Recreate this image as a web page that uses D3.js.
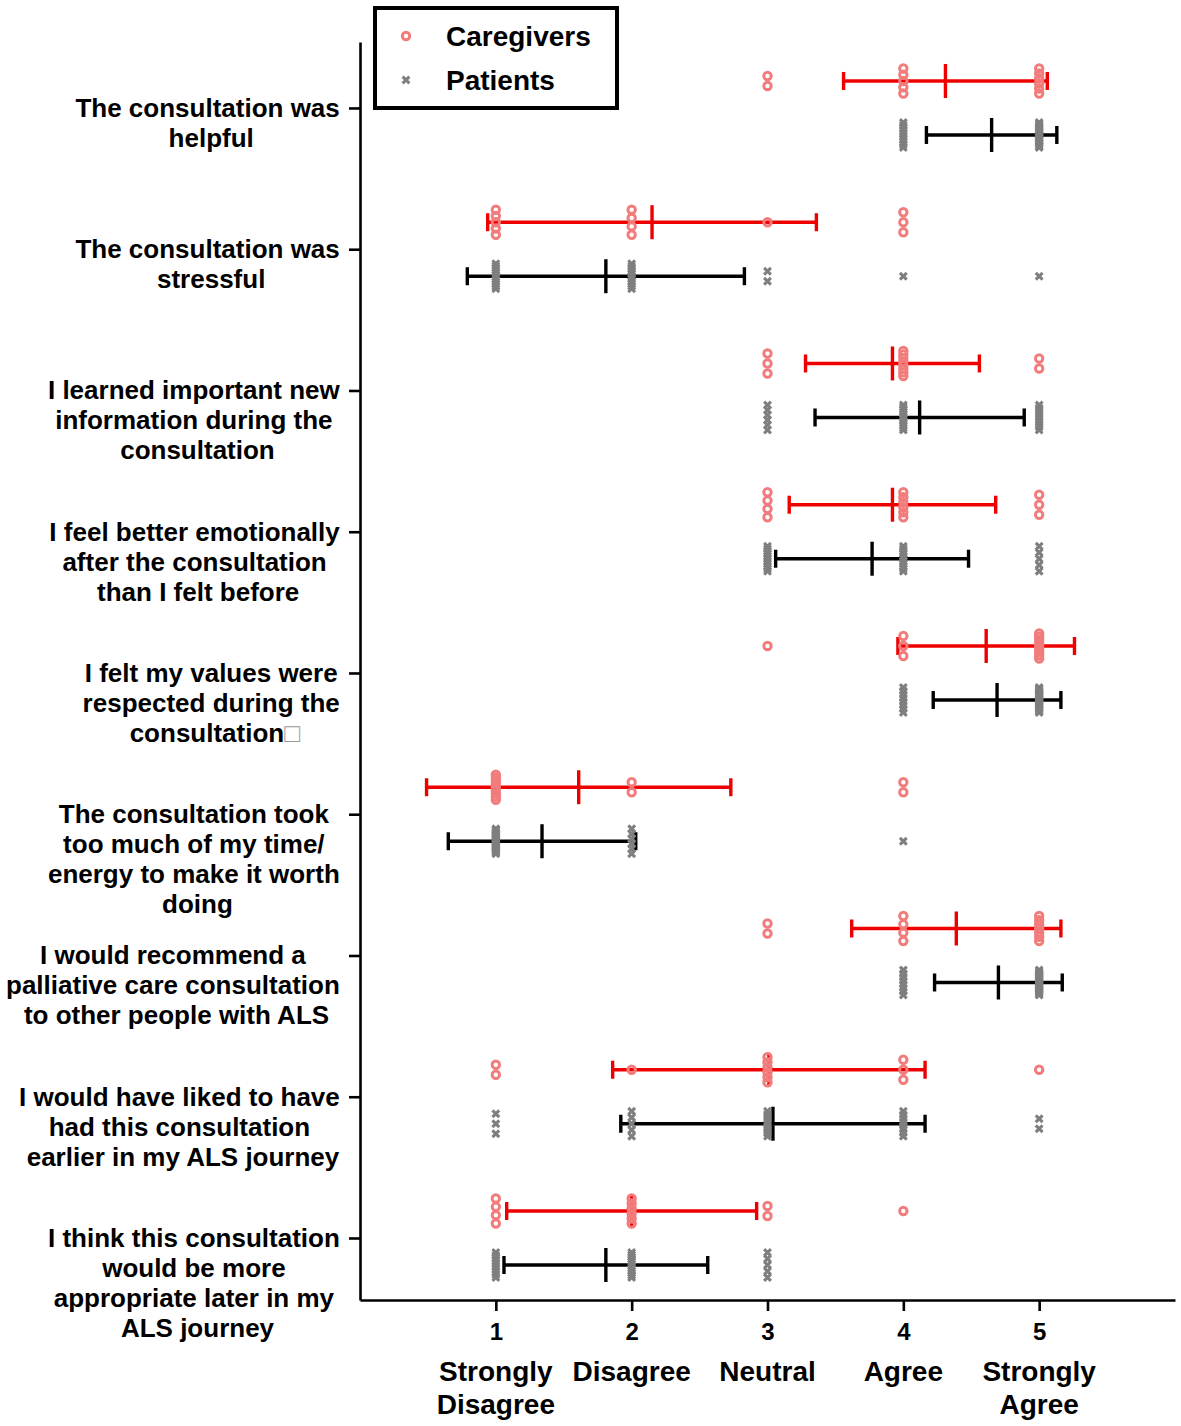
<!DOCTYPE html>
<html>
<head>
<meta charset="utf-8">
<script src="https://cdn.jsdelivr.net/npm/d3@7"></script>
<style>
body { margin: 0; background: #fff; }
text { font-family: 'Liberation Sans', Arial, sans-serif; font-weight: bold; fill: #000; }
</style>
</head>
<body>
<div id="chart"></div>
<script>
'use strict';

// survey items, one line per entry (trailing space kept where the label wraps)
var questions = [
    ['The consultation was ', 'helpful'],
    ['The consultation was ', 'stressful'],
    ['I learned important new ', 'information during the ', 'consultation'],
    ['I feel better emotionally ', 'after the consultation ', 'than I felt before'],
    ['I felt my values were ', 'respected during the ', 'consultation\u25A1'],
    ['The consultation took ', 'too much of my time/ ', 'energy to make it worth ', 'doing'],
    ['I would recommend a ', 'palliative care consultation ', 'to other people with ALS'],
    ['I would have liked to have ', 'had this consultation ', 'earlier in my ALS journey'],
    ['I think this consultation ', 'would be more ', 'appropriate later in my ', 'ALS journey']
];

var levels = [1, 2, 3, 4, 5];
var levelNames = [['Strongly', 'Disagree'], ['Disagree'], ['Neutral'], ['Agree'], ['Strongly', 'Agree']];

// number of answers per level 1..5
var caregiverCounts = [
    [0, 0, 2, 5, 6],
    [5, 4, 1, 3, 0],
    [0, 0, 3, 8, 2],
    [0, 0, 4, 6, 3],
    [0, 0, 1, 3, 9],
    [9, 2, 0, 2, 0],
    [0, 0, 2, 4, 7],
    [2, 1, 6, 3, 1],
    [4, 6, 2, 1, 0]
];
var patientCounts = [
    [0, 0, 0, 10, 17],
    [12, 11, 2, 1, 1],
    [0, 0, 6, 12, 9],
    [0, 0, 11, 11, 5],
    [0, 0, 0, 8, 19],
    [20, 6, 0, 1, 0],
    [0, 0, 0, 8, 19],
    [3, 5, 9, 8, 2],
    [10, 12, 5, 0, 0]
];

// mean and standard deviation bars
var caregiverMean = [4.31, 2.15, 3.92, 3.92, 4.61, 1.61, 4.39, 3.01, 2.00];
var caregiverSD   = [0.75, 1.21, 0.64, 0.76, 0.65, 1.12, 0.77, 1.15, 0.92];
var patientMean   = [4.65, 1.81, 4.12, 3.77, 4.69, 1.34, 4.70, 3.04, 1.81];
var patientSD     = [0.48, 1.02, 0.77, 0.71, 0.47, 0.69, 0.47, 1.12, 0.75];

var groups = ['Caregivers', 'Patients'];

function likertChart()
{
    var scope = this;
    var exports = {};

    scope.width = 1181;
    scope.height = 1426;
    scope.left = 360;
    scope.right = 1175;
    scope.top = 42;
    scope.bottom = 1300;
    scope.rowShift = 27;

    scope.colors = {
        Caregivers: {mark: '#f27c7c', bar: '#ee0000'},
        Patients:   {mark: '#7f7f7f', bar: '#000000'}
    };

    scope.appendSvg = function(div)
    {
        return d3.select(div).append('svg')
            .attr('width', scope.width)
            .attr('height', scope.height);
    }

    scope.createScales = function()
    {
        scope.xScale = d3.scaleLinear().domain([0, 6]).range([scope.left, scope.right]);
        scope.yScale = d3.scaleLinear().domain([-0.467, 8.439]).range([scope.top, scope.bottom]);
    }

    scope.createAxes = function(svg)
    {
        var xAxis = d3.axisBottom(scope.xScale)
            .tickValues(levels)
            .tickSize(11).tickSizeOuter(0)
            .tickPadding(12)
            .tickFormat(d3.format('d'));
        var yAxis = d3.axisLeft(scope.yScale)
            .tickValues(d3.range(questions.length))
            .tickSize(11).tickSizeOuter(0)
            .tickFormat('');

        var gx = svg.append('g')
            .attr('transform', 'translate(0,' + scope.bottom + ')')
            .call(xAxis);
        gx.selectAll('text').style('font-size', '24px').attr('fill', '#000');

        var gy = svg.append('g')
            .attr('transform', 'translate(' + scope.left + ',0)')
            .call(yAxis);

        [gx, gy].forEach(function(g) {
            g.selectAll('path, line').attr('stroke', '#000').attr('stroke-width', 2.6);
        });

        // level names under the numbers
        var names = svg.append('g').selectAll('text')
            .data(levelNames)
            .enter().append('text')
            .attr('text-anchor', 'middle')
            .style('font-size', '28px');
        names.each(function(lines, i) {
            d3.select(this).selectAll('tspan')
                .data(lines).enter().append('tspan')
                .attr('x', scope.xScale(levels[i]))
                .attr('y', function(d, j) { return 1381 + j * 33; })
                .text(function(d) { return d; });
        });
    }

    scope.createQuestionLabels = function(svg)
    {
        var rightEdge = 347;
        questions.forEach(function(lines, q) {
            var t = svg.append('text')
                .attr('text-anchor', 'middle')
                .style('font-size', '26px')
                .style('white-space', 'pre');
            var spans = t.selectAll('tspan').data(lines).enter().append('tspan')
                .attr('y', function(d, j) { return scope.yScale(q) + 9 + j * 30; })
                .text(function(d) { return d; });
            var maxW = 0;
            spans.each(function() { maxW = Math.max(maxW, this.getComputedTextLength()); });
            spans.attr('x', rightEdge - maxW / 2);
        });
        // the fifth item shows a missing-glyph box after its text
        svg.selectAll('tspan').filter(function(d) { return d === 'consultation\u25A1'; })
            .each(function() {
                var s = d3.select(this);
                s.text('consultation');
                s.append('tspan').attr('fill', '#9a9a9a').style('font-weight', 'normal').text('\u25A1');
            });
    }

    scope.markPath = function(group)
    {
        if (group === 'Caregivers') return null;
        return 'M-3.4,-3.4L3.4,3.4M-3.4,3.4L3.4,-3.4';
    }

    scope.pointsFor = function(counts, shift)
    {
        var pts = [];
        counts.forEach(function(row, q) {
            row.forEach(function(n, k) {
                var spacing = n > 1 ? Math.min(10, 25 / (n - 1)) : 0;
                for (var i = 0; i < n; i++) {
                    pts.push({value: levels[k], q: q, dy: shift + (i - (n - 1) / 2) * spacing});
                }
            });
        });
        return pts;
    }

    scope.appendErrorBars = function(svg, group, means, sds, shift)
    {
        var col = scope.colors[group].bar;
        var g = svg.append('g')
            .attr('stroke', col)
            .attr('stroke-width', 3.4)
            .attr('fill', 'none');
        var rows = means.map(function(m, q) { return {q: q, mean: m, sd: sds[q]}; });
        var bars = g.selectAll('g').data(rows).enter().append('g')
            .attr('transform', function(d) { return 'translate(0,' + (scope.yScale(d.q) + shift) + ')'; });
        bars.append('line')
            .attr('x1', function(d) { return scope.xScale(d.mean - d.sd); })
            .attr('x2', function(d) { return scope.xScale(d.mean + d.sd); });
        bars.append('line')
            .attr('x1', function(d) { return scope.xScale(d.mean - d.sd); })
            .attr('x2', function(d) { return scope.xScale(d.mean - d.sd); })
            .attr('y1', -9).attr('y2', 9);
        bars.append('line')
            .attr('x1', function(d) { return scope.xScale(d.mean + d.sd); })
            .attr('x2', function(d) { return scope.xScale(d.mean + d.sd); })
            .attr('y1', -9).attr('y2', 9);
        bars.append('line')
            .attr('x1', function(d) { return scope.xScale(d.mean); })
            .attr('x2', function(d) { return scope.xScale(d.mean); })
            .attr('y1', -17).attr('y2', 17);
    }

    scope.appendMarks = function(svg, group, counts, shift)
    {
        var col = scope.colors[group].mark;
        var pts = scope.pointsFor(counts, shift);
        var g = svg.append('g');
        if (group === 'Caregivers') {
            g.selectAll('circle').data(pts).enter().append('circle')
                .attr('cx', function(d) { return scope.xScale(d.value); })
                .attr('cy', function(d) { return scope.yScale(d.q) + d.dy; })
                .attr('r', 3.7)
                .attr('fill', 'none')
                .attr('stroke', col)
                .attr('stroke-width', 3);
        } else {
            g.selectAll('path').data(pts).enter().append('path')
                .attr('transform', function(d) { return 'translate(' + scope.xScale(d.value) + ',' + (scope.yScale(d.q) + d.dy) + ')'; })
                .attr('d', scope.markPath(group))
                .attr('fill', 'none')
                .attr('stroke', col)
                .attr('stroke-width', 3);
        }
    }

    scope.appendLegend = function(svg)
    {
        var lg = svg.append('g');
        lg.append('rect')
            .attr('x', 375).attr('y', 8)
            .attr('width', 242).attr('height', 100)
            .attr('fill', '#fff')
            .attr('stroke', '#000')
            .attr('stroke-width', 4);
        var items = lg.selectAll('g.item').data(groups).enter().append('g')
            .attr('class', 'item')
            .attr('transform', function(d, i) { return 'translate(406,' + (36 + i * 44) + ')'; });
        items.filter(function(d) { return d === 'Caregivers'; }).append('circle')
            .attr('r', 3.7).attr('fill', 'none')
            .attr('stroke', scope.colors.Caregivers.mark).attr('stroke-width', 3);
        items.filter(function(d) { return d === 'Patients'; }).append('path')
            .attr('d', scope.markPath('Patients')).attr('fill', 'none')
            .attr('stroke', scope.colors.Patients.mark).attr('stroke-width', 3);
        items.append('text')
            .attr('x', 40).attr('y', 10)
            .style('font-size', '28px')
            .text(function(d) { return d; });
    }

    exports.run = function(div)
    {
        var svg = scope.appendSvg(div);
        scope.createScales();
        scope.createAxes(svg);
        scope.createQuestionLabels(svg);

        scope.appendErrorBars(svg, 'Caregivers', caregiverMean, caregiverSD, -scope.rowShift);
        scope.appendErrorBars(svg, 'Patients', patientMean, patientSD, scope.rowShift);
        scope.appendMarks(svg, 'Caregivers', caregiverCounts, -scope.rowShift);
        scope.appendMarks(svg, 'Patients', patientCounts, scope.rowShift);

        scope.appendLegend(svg);
    }

    return exports;
}

var chart = new likertChart();
chart.run('#chart');
</script>
</body>
</html>
